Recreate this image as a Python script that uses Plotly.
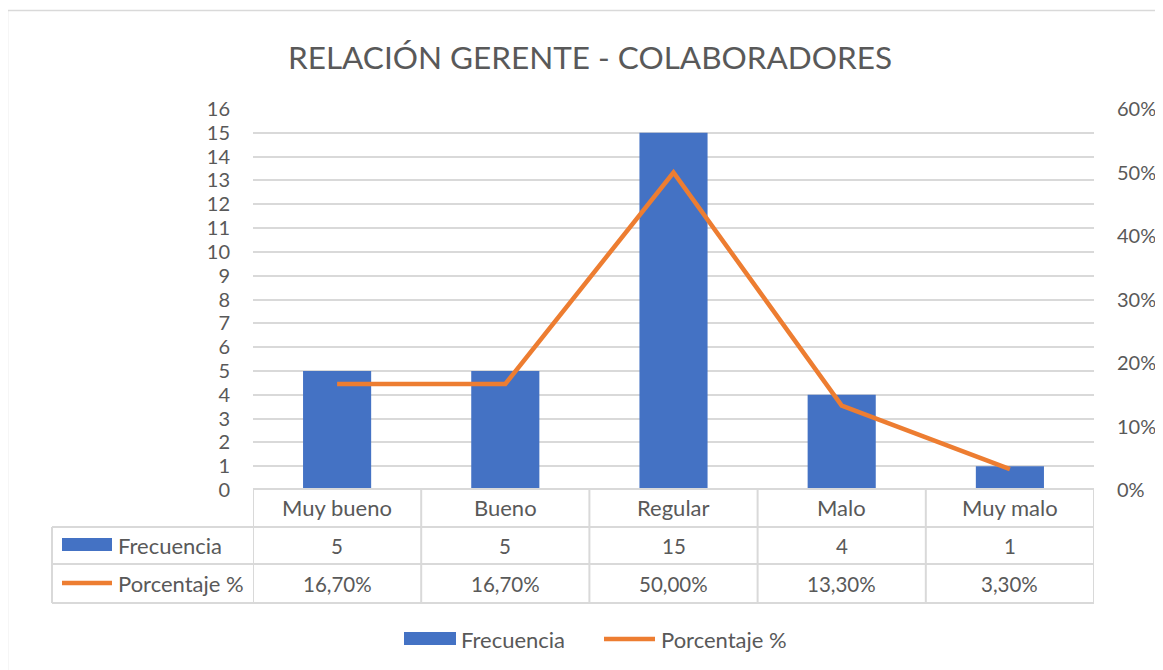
"""Relación gerente - colaboradores: barras de frecuencia + línea de porcentaje con tabla de datos."""

import plotly.graph_objects as go

categorias = ["Muy bueno", "Bueno", "Regular", "Malo", "Muy malo"]
frecuencia = [5, 5, 15, 4, 1]
porcentaje = [0.167, 0.167, 0.50, 0.133, 0.033]

AZUL = "#4472C4"
NARANJA = "#ED7D31"
TEXTO = "#595959"
GRIS = "#D9D9D9"
FUENTE = "Lato"

# the page body adds an 8px margin, so the figure is drawn 8px smaller
OFF = 8
W, H = 1163 - OFF, 670 - OFF
# plot area in page pixels
L, R, T, B = 253, 1094, 109, 490


def px_x(p):
    return (p - L) / (R - L)


def px_y(p):
    return (B - p) / (B - T)


fig = go.Figure()
fig.add_trace(
    go.Bar(
        x=categorias,
        y=frecuencia,
        name="Frecuencia",
        marker=dict(color=AZUL, line=dict(width=0)),
    )
)
fig.add_trace(
    go.Scatter(
        x=categorias,
        y=porcentaje,
        name="Porcentaje %",
        mode="lines",
        yaxis="y2",
        line=dict(color=NARANJA, width=4.5),
    )
)

# data table rows (pixel positions of the horizontal rules)
filas = [489, 527, 564, 603]
shapes = []
for i, yy in enumerate(filas):
    x0 = L if i == 0 else 52
    shapes.append(dict(type="line", xref="paper", yref="paper",
                       x0=px_x(x0), x1=px_x(R), y0=px_y(yy), y1=px_y(yy),
                       line=dict(color=GRIS, width=2)))
for k in range(len(categorias) + 1):
    shapes.append(dict(type="line", xref="x", yref="paper",
                       x0=k - 0.5, x1=k - 0.5, y0=px_y(filas[0]), y1=px_y(filas[-1]),
                       line=dict(color=GRIS, width=2)))
shapes.append(dict(type="line", xref="paper", yref="paper",
                   x0=px_x(52), x1=px_x(52), y0=px_y(filas[1]), y1=px_y(filas[-1]),
                   line=dict(color=GRIS, width=2)))

# legend keys inside the table
shapes.append(dict(type="rect", xref="paper", yref="paper",
                   x0=px_x(62), x1=px_x(112), y0=px_y(551), y1=px_y(538),
                   fillcolor=AZUL, line=dict(width=0)))
shapes.append(dict(type="line", xref="paper", yref="paper",
                   x0=px_x(62), x1=px_x(112), y0=px_y(583), y1=px_y(583),
                   line=dict(color=NARANJA, width=4.5)))

# bottom legend
shapes.append(dict(type="rect", xref="paper", yref="paper",
                   x0=px_x(404), x1=px_x(456), y0=px_y(645), y1=px_y(632),
                   fillcolor=AZUL, line=dict(width=0)))
shapes.append(dict(type="line", xref="paper", yref="paper",
                   x0=px_x(604), x1=px_x(655), y0=px_y(639), y1=px_y(639),
                   line=dict(color=NARANJA, width=4.5)))

# chart border
shapes.append(dict(type="rect", xref="paper", yref="paper",
                   x0=px_x(7.5), x1=px_x(1175), y0=px_y(690), y1=px_y(10.5),
                   line=dict(color=GRIS, width=1.5), layer="below"))

annotations = []
fuente_txt = dict(family=FUENTE, size=22, color=TEXTO)
fuente_num = dict(family=FUENTE, size=20.5, color=TEXTO)
for c, f, p in zip(categorias, frecuencia, porcentaje):
    annotations.append(dict(x=c, y=px_y(508), xref="x", yref="paper", text=c,
                            showarrow=False, font=fuente_txt, yanchor="middle"))
    annotations.append(dict(x=c, y=px_y(545.5), xref="x", yref="paper", text=str(f),
                            showarrow=False, font=fuente_num, yanchor="middle"))
    txt = f"{p * 100:.2f}%".replace(".", ",")
    annotations.append(dict(x=c, y=px_y(583.5), xref="x", yref="paper", text=txt,
                            showarrow=False, font=fuente_num, yanchor="middle"))

annotations.append(dict(x=px_x(116), y=px_y(545.5), xref="paper", yref="paper",
                        text="Frecuencia", showarrow=False, font=fuente_txt,
                        xanchor="left", yanchor="middle"))
annotations.append(dict(x=px_x(116), y=px_y(583.5), xref="paper", yref="paper",
                        text="Porcentaje %", showarrow=False, font=fuente_txt,
                        xanchor="left", yanchor="middle"))
annotations.append(dict(x=px_x(459), y=px_y(639), xref="paper", yref="paper",
                        text="Frecuencia", showarrow=False, font=fuente_txt,
                        xanchor="left", yanchor="middle"))
annotations.append(dict(x=px_x(659), y=px_y(639), xref="paper", yref="paper",
                        text="Porcentaje %", showarrow=False, font=fuente_txt,
                        xanchor="left", yanchor="middle"))

fig.update_layout(
    width=W,
    height=H,
    margin=dict(l=L - OFF, r=W - (R - OFF), t=T - OFF, b=H - (B - OFF)),
    paper_bgcolor="white",
    plot_bgcolor="white",
    showlegend=False,
    bargap=0.595,
    font=dict(family=FUENTE, color=TEXTO, size=19),
    title=dict(
        text="RELACIÓN GERENTE - COLABORADORES",
        x=(590 - OFF) / W,
        xanchor="center",
        y=1 - (58 - OFF) / H,
        yanchor="middle",
        font=dict(family=FUENTE, size=31.5, color=TEXTO),
    ),
    xaxis=dict(range=[-0.5, 4.5], showticklabels=False, showgrid=False,
               zeroline=False, showline=False, fixedrange=True, automargin=False),
    yaxis=dict(range=[0, 16], dtick=1, showgrid=True, gridcolor=GRIS, gridwidth=1.5,
               zeroline=False, showline=False, ticklabelstandoff=22, automargin=False,
               tickfont=dict(size=20, color=TEXTO)),
    yaxis2=dict(range=[0, 0.6], dtick=0.1, tickformat=".0%", overlaying="y",
                side="right", showgrid=False, zeroline=False, showline=False,
                ticklabelstandoff=22, automargin=False,
                tickfont=dict(size=20, color=TEXTO)),
    shapes=shapes,
    annotations=annotations,
)

fig.write_html("out.html")
